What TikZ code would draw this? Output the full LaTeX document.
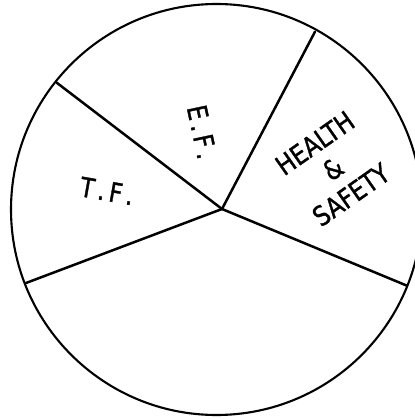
\documentclass[tikz,border=0pt]{standalone}
\usepackage{fontspec}
\setmainfont{DejaVu Sans}
\newfontfamily\lettering[FakeStretch=0.85,FakeBold=1.2]{DejaVu Sans}
\begin{document}
\begin{tikzpicture}[x=1pt,y=-1pt,
  rim/.style={line width=2.1pt},
  spoke/.style={line width=2.5pt, line cap=round},
  lbl/.style={inner sep=0pt, font=\lettering\fontsize{27}{31.5}\selectfont, align=center}]
\useasboundingbox (0,0) rectangle (414,419);
\coordinate (o) at (216.5,209.5);
\draw[rim] (o) circle[radius=205.5pt];
\coordinate (c) at (222,209);
\coordinate (p1) at (56.7,82.7);
\coordinate (p2) at (315,31.7);
\coordinate (p3) at (406.5,285.5);
\coordinate (p4) at (26,283);
\draw[spoke] (c) -- (p1);
\draw[spoke] (c) -- (p2);
\draw[spoke] (c) -- (p3);
\draw[spoke] (c) -- (p4);
\node[lbl, rotate=-10] (tf) at (107,191) {T\kern4pt.\kern4pt F\kern4pt.};
\node[lbl, rotate=-78] (ef) at (202,132) {E\kern4pt.\kern4pt F\kern4pt.};
\node[lbl, rotate=35] (hs) at (333,169) {HEALTH\\\&\\SAFETY};
\end{tikzpicture}
\end{document}
